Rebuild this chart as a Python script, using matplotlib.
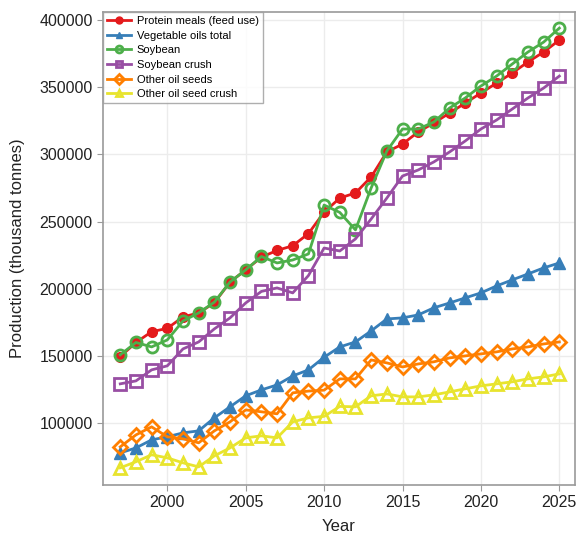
import matplotlib
matplotlib.use("Agg")
import matplotlib.pyplot as plt

years = list(range(1997, 2026))

protein_meals = [149500, 160000, 168000, 170500, 179000, 182000, 189500, 205000, 214000, 223500,
                 228500, 232000, 241000, 257000, 267500, 271300, 283200, 301800, 307700, 316700,
                 323400, 330800, 338200, 345700, 353100, 360600, 368800, 376200, 385100]
veg_oils = [77800, 81500, 87500, 89800, 92700, 94200, 103900, 112100, 120300, 124700,
            128400, 135100, 139600, 149000, 156700, 160400, 168600, 177500, 178300, 180500,
            185800, 189400, 193200, 196900, 202100, 206600, 211000, 215500, 219200]
soybean = [150800, 160000, 156700, 161900, 176000, 182000, 190000, 205000, 214000, 224000,
           219200, 221400, 225900, 262300, 256800, 243800, 275000, 302500, 318900, 318900,
           324100, 334500, 342000, 350900, 358300, 367300, 376200, 383600, 394000]
soybean_crush = [129200, 131400, 139600, 142600, 155200, 160400, 170100, 178300, 189400, 198000,
                 200600, 196900, 209800, 230300, 228100, 237100, 251900, 267500, 283900, 288400,
                 294400, 301800, 310000, 318900, 325600, 333800, 342000, 349400, 358300]
other_seeds = [82300, 91200, 97200, 89800, 88300, 85300, 94200, 100900, 109800, 108400,
               106900, 122500, 123800, 124500, 132900, 132900, 147000, 144800, 141800, 144000,
               145600, 148500, 150000, 151500, 153000, 155200, 156700, 158900, 160400]
other_seed_crush = [66700, 71200, 76400, 74100, 70400, 67400, 75600, 81500, 89000, 90500,
                    89000, 100900, 103900, 105000, 112400, 112100, 120300, 121700, 119500, 119500,
                    121000, 123200, 125500, 127700, 129200, 130700, 132900, 134400, 136600]

series = [
    ("Protein meals (feed use)", protein_meals, "#e41a1c", "o", True),
    ("Vegetable oils total", veg_oils, "#377eb8", "^", True),
    ("Soybean", soybean, "#4daf4a", "o", False),
    ("Soybean crush", soybean_crush, "#984ea3", "s", False),
    ("Other oil seeds", other_seeds, "#ff7f00", "D", False),
    ("Other oil seed crush", other_seed_crush, "#e8e42e", "^", False),
]

plt.rcParams['font.family'] = ['Liberation Sans', 'DejaVu Sans']

fig = plt.figure(figsize=(5.78, 5.37), dpi=100)
ax = fig.add_axes([103 / 578, 1 - 485 / 537, (575 - 103) / 578, (485 - 12) / 537])

for label, vals, color, marker, filled in series:
    if filled:
        ax.plot(years, vals, color=color, marker=marker, linewidth=2,
                markersize=7 if marker == "o" else 8, markerfacecolor=color,
                markeredgecolor=color, label=label)
    else:
        ax.plot(years, vals, color=color, marker=marker, linewidth=2,
                markersize=8 if marker != "D" else 7, markerfacecolor="none",
                markeredgecolor=color, markeredgewidth=2, label=label)

ax.set_xlim(1995.9, 2026.0)
ax.set_ylim(53900, 406000)
ax.set_xticks([2000, 2005, 2010, 2015, 2020, 2025])
ax.set_yticks([100000, 150000, 200000, 250000, 300000, 350000, 400000])

ax.grid(True, color="#ececec", linewidth=1)
ax.set_axisbelow(True)
for sp in ax.spines.values():
    sp.set_color("#9a9a9a")
    sp.set_linewidth(1.2)
ax.tick_params(direction="out", length=4, color="#9a9a9a", labelsize=11.5,
               labelcolor="#222222")

ax.set_xlabel("Year", fontsize=12, color="#222222", labelpad=6)
ax.set_ylabel("Production (thousand tonnes)", fontsize=12, color="#222222", labelpad=10)

leg = ax.legend(loc="upper left", fontsize=8, frameon=True, fancybox=False,
                borderaxespad=0, handlelength=2.2, labelspacing=0.42,
                borderpad=0.35, handletextpad=0.5)
leg.get_frame().set_edgecolor("#9a9a9a")
leg.get_frame().set_linewidth(1.0)
for h in leg.legend_handles:
    h.set_markersize(5)

fig.savefig("out.png", dpi=100)
